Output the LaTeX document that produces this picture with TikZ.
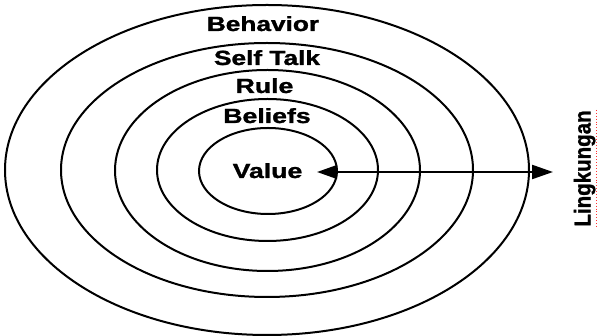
\documentclass[tikz,border=0pt]{standalone}
\usepackage{fontspec}
\setmainfont{Liberation Sans}
\newfontfamily\heavyfont[FakeBold=1.2]{Liberation Sans Bold}
\usetikzlibrary{arrows.meta,shapes.geometric}
\begin{document}
\begin{tikzpicture}[x=1pt,y=-1pt,
  ring/.style={draw=black,line width=2pt},
  lbl/.style={font=\fontsize{20.5}{24}\heavyfont,inner sep=0pt,anchor=base},
  arr/.style={line width=2.3pt,{Triangle[length=20pt,width=13.5pt]}-{Triangle[length=21pt,width=14pt]}}]
\useasboundingbox (0,0) rectangle (598,336);
\fill[white] (0,0) rectangle (598,336);
% rings
\draw[ring] (267,170) ellipse [x radius=262,y radius=165];
\draw[ring] (267,170) ellipse [x radius=206,y radius=127];
\draw[ring] (267.5,170.5) ellipse [x radius=152.5,y radius=100.5];
\draw[ring] (267.5,170) ellipse [x radius=110.5,y radius=71];
\draw[ring] (268,171) ellipse [x radius=69,y radius=43];
% labels
\node[lbl] (beh) at (263,31) {\scalebox{1.28}[1]{Behavior}};
\node[lbl] (self) at (267,65) {\scalebox{1.28}[1]{Self Talk}};
\node[lbl] (rule) at (264.5,93) {\scalebox{1.3}[1]{Rule}};
\node[lbl] (bel) at (267,123) {\scalebox{1.3}[1]{Beliefs}};
\node[lbl] (val) at (267.5,178) {\scalebox{1.3}[1]{Value}};
\node[lbl,rotate=90] (ling) at (590.5,168.5) {\fontsize{20.5}{24}\heavyfont\scalebox{1}[1.12]{Lingkungan}};
% arrow
\coordinate (arrL) at (317,172);
\coordinate (arrR) at (553,172);
\draw[arr] (arrL) -- (arrR);
% spell-check underline
\draw[red!80!white,line width=0.9pt,dotted] (596.5,110) -- (596.5,228);
\end{tikzpicture}
\end{document}
